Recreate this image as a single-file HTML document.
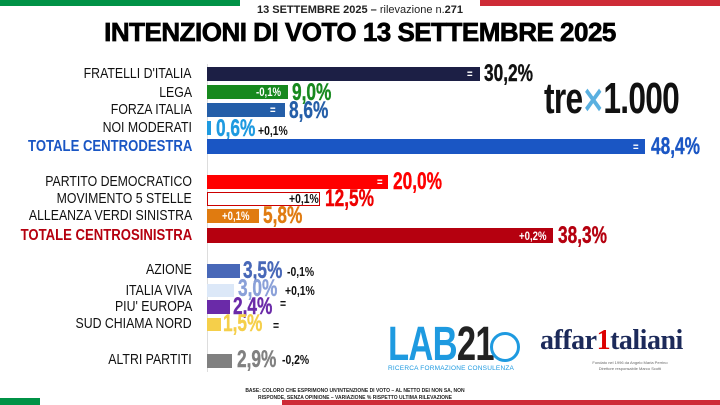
<!DOCTYPE html>
<html><head><meta charset="utf-8"><style>
*{margin:0;padding:0;box-sizing:border-box}
body{width:720px;height:405px;background:#fff;position:relative;overflow:hidden;font-family:"Liberation Sans",sans-serif}
div{position:absolute}
.l{right:528px;text-align:right;font-size:15px;color:#111;white-space:nowrap;line-height:16px;transform:scaleX(0.82);transform-origin:right center}
.t{font-weight:bold;font-size:16px}
.b{left:207px}
.v{font-weight:bold;font-size:24px;line-height:22px;white-space:nowrap;transform:scaleX(0.72);transform-origin:left center;-webkit-text-stroke:0.4px currentColor}
.d{font-weight:bold;font-size:12px;color:#fff;line-height:14px;white-space:nowrap;transform:scaleX(0.8);transform-origin:left center}
.k{font-weight:bold;font-size:13px;color:#111;line-height:14px;white-space:nowrap;transform:scaleX(0.8);transform-origin:left center}
</style></head><body>
<div style="left:0;top:0;width:240px;height:6px;background:#009246"></div>
<div style="left:480px;top:0;width:240px;height:6px;background:#ce2b37"></div>
<div style="left:0;top:398px;width:40px;height:7px;background:#009246"></div>
<div style="left:282px;top:400px;width:438px;height:5px;background:#ce2b37"></div>
<div style="left:0;top:4px;width:720px;text-align:center;font-size:11px;color:#222"><b>13 SETTEMBRE 2025 –</b> rilevazione n.<b>271</b></div>
<div style="left:0;top:17px;width:720px;text-align:center;font-weight:900;font-size:26px;color:#000;letter-spacing:-0.5px;-webkit-text-stroke:0.7px #000">INTENZIONI DI VOTO 13 SETTEMBRE 2025</div>

<div style="left:207px;top:64px;width:1px;height:308px;background:#ddd"></div>

<div class="l" style="top:66px">FRATELLI D'ITALIA</div>
<div class="l" style="top:85px">LEGA</div>
<div class="l" style="top:102px">FORZA ITALIA</div>
<div class="l" style="top:120px">NOI MODERATI</div>
<div class="l t" style="top:139px;color:#1a56c4">TOTALE CENTRODESTRA</div>
<div class="l" style="top:174px">PARTITO DEMOCRATICO</div>
<div class="l" style="top:191px">MOVIMENTO 5 STELLE</div>
<div class="l" style="top:208px">ALLEANZA VERDI SINISTRA</div>
<div class="l t" style="top:228px;color:#b5000f">TOTALE CENTROSINISTRA</div>
<div class="l" style="top:262px">AZIONE</div>
<div class="l" style="top:283px">ITALIA VIVA</div>
<div class="l" style="top:299px">PIU' EUROPA</div>
<div class="l" style="top:316px">SUD CHIAMA NORD</div>
<div class="l" style="top:352px">ALTRI PARTITI</div>

<div class="b" style="top:67px;width:273px;height:14px;background:#1c1f45"></div>
<div class="d" style="left:467px;top:67px">=</div>
<div class="v" style="left:484px;top:63px;color:#111">30,2%</div>

<div class="b" style="top:85px;width:81px;height:14px;background:#17891e"></div>
<div class="d" style="left:256px;top:85px">-0,1%</div>
<div class="v" style="left:292px;top:82px;color:#17891e">9,0%</div>

<div class="b" style="top:103px;width:78px;height:14px;background:#245ea8"></div>
<div class="d" style="left:270px;top:103px">=</div>
<div class="v" style="left:289px;top:100px;color:#245ea8">8,6%</div>

<div class="b" style="top:121px;width:4px;height:14px;background:#1e9ae0"></div>
<div class="v" style="left:216px;top:118px;color:#1e9ae0">0,6%</div>
<div class="k" style="left:258px;top:124px">+0,1%</div>

<div class="b" style="top:139px;width:438px;height:15px;background:#1a56c4"></div>
<div class="d" style="left:633px;top:140px">=</div>
<div class="v" style="left:651px;top:136px;color:#1a56c4">48,4%</div>

<div class="b" style="top:175px;width:181px;height:14px;background:#f00"></div>
<div class="d" style="left:377px;top:175px">=</div>
<div class="v" style="left:393px;top:171px;color:#f00">20,0%</div>

<div class="b" style="top:192px;width:113px;height:14px;background:#fff;border:1.5px solid #c00"></div>
<div class="k" style="left:289px;top:192px">+0,1%</div>
<div class="v" style="left:325px;top:188px;color:#e00">12,5%</div>

<div class="b" style="top:209px;width:52px;height:14px;background:#e07b10"></div>
<div class="d" style="left:222px;top:209px">+0,1%</div>
<div class="v" style="left:263px;top:205px;color:#e07b10">5,8%</div>

<div class="b" style="top:228px;width:346px;height:15px;background:#b5000f"></div>
<div class="d" style="left:519px;top:229px">+0,2%</div>
<div class="v" style="left:558px;top:225px;color:#b5000f">38,3%</div>

<div class="b" style="top:264px;width:33px;height:14px;background:#4868b8"></div>
<div class="v" style="left:243px;top:260px;color:#4868b8">3,5%</div>
<div class="k" style="left:287px;top:265px">-0,1%</div>

<div class="b" style="top:284px;width:27px;height:13px;background:#dce8f8"></div>
<div class="v" style="left:238px;top:278px;color:#8aa0d8">3,0%</div>
<div class="k" style="left:285px;top:284px">+0,1%</div>

<div class="b" style="top:300px;width:23px;height:14px;background:#6a2aa8"></div>
<div class="v" style="left:233px;top:296px;color:#6a2aa8">2,4%</div>
<div class="k" style="left:280px;top:297px">=</div>

<div class="b" style="top:318px;width:14px;height:13px;background:#f5cf4a"></div>
<div class="v" style="left:223px;top:313px;color:#f5cf4a">1,5%</div>
<div class="k" style="left:273px;top:319px">=</div>

<div class="b" style="top:354px;width:25px;height:14px;background:#808080"></div>
<div class="v" style="left:237px;top:349px;color:#808080">2,9%</div>
<div class="k" style="left:282px;top:353px">-0,2%</div>

<div style="left:544px;top:78px;font-weight:bold;font-size:44px;line-height:42px;color:#111;letter-spacing:-1px;transform:scaleX(0.72);transform-origin:left center;white-space:nowrap">tre<span style="color:#5ab0e0;font-size:36px">✕</span>1.000</div>

<div style="left:388px;top:324px;font-weight:bold;font-size:48px;line-height:42px;letter-spacing:-1px;transform:scaleX(0.72);transform-origin:left center;white-space:nowrap"><span style="color:#1e9ae0">LAB</span><span style="color:#222">21</span></div>
<div style="left:490px;top:332px;width:30px;height:30px;border-radius:50%;border:3px solid #1e9ae0"></div>
<div style="left:388px;top:365px;font-size:6.5px;color:#1e9ae0;letter-spacing:0.2px;white-space:nowrap">RICERCA FORMAZIONE CONSULENZA</div>

<div style="left:540px;top:326px;font-family:'Liberation Serif',serif;font-weight:bold;font-size:28px;line-height:30px;color:#1c2a5a;letter-spacing:-0.5px">affar<span style="color:#d00">1</span>taliani</div>
<div style="left:575px;top:360px;width:110px;text-align:center;font-size:4px;color:#666;line-height:6px">Fondato nel 1996 da Angelo Maria Perrino<br>Direttore responsabile Marco Scotti</div>

<div style="left:240px;top:388px;width:230px;text-align:center;font-weight:bold;font-size:5px;line-height:6.5px;color:#222">BASE: COLORO CHE ESPRIMONO UN'INTENZIONE DI VOTO – AL NETTO DEI NON SA, NON RISPONDE, SENZA OPINIONE – VARIAZIONE % RISPETTO ULTIMA RILEVAZIONE</div>
</body></html>
